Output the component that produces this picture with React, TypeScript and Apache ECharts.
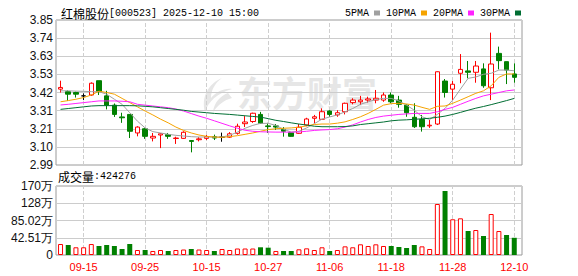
import React, { useEffect, useRef } from 'react';
import * as echarts from 'echarts';

const dates = ['09-10','09-11','09-12','09-15','09-16','09-17','09-18','09-19','09-22','09-23','09-24','09-25','09-26','09-29','09-30','10-09','10-10','10-13','10-14','10-15','10-16','10-17','10-20','10-21','10-22','10-23','10-24','10-27','10-28','10-29','10-30','10-31','11-03','11-04','11-05','11-06','11-07','11-10','11-11','11-12','11-13','11-14','11-17','11-18','11-19','11-20','11-21','11-24','11-25','11-26','11-27','11-28','12-01','12-02','12-03','12-04','12-05','12-08','12-09','12-10'];
const labelDates = ['09-15','09-25','10-15','10-27','11-06','11-18','11-28','12-10'];

const opens = [3.44,3.425,3.42,3.40,3.405,3.49,3.40,3.345,3.275,3.29,3.18,3.205,3.15,3.168,3.17,3.147,3.148,3.135,3.14,3.148,3.158,3.155,3.155,3.178,3.235,3.248,3.29,3.222,3.222,3.20,3.182,3.178,3.227,3.267,3.261,3.31,3.287,3.306,3.36,3.365,3.375,3.375,3.375,3.405,3.375,3.345,3.273,3.26,3.222,3.233,3.488,3.44,3.534,3.548,3.54,3.56,3.448,3.652,3.603,3.53];
const closes = [3.45,3.41,3.41,3.40,3.475,3.425,3.345,3.29,3.27,3.19,3.215,3.16,3.16,3.175,3.16,3.15,3.184,3.13,3.145,3.158,3.15,3.155,3.175,3.22,3.245,3.297,3.237,3.218,3.215,3.19,3.16,3.214,3.263,3.276,3.306,3.29,3.30,3.356,3.375,3.375,3.382,3.386,3.405,3.365,3.35,3.30,3.217,3.217,3.226,3.543,3.42,3.469,3.557,3.54,3.577,3.46,3.589,3.609,3.553,3.51];
const lows = [3.42,3.37,3.39,3.375,3.40,3.405,3.32,3.275,3.24,3.15,3.16,3.145,3.13,3.09,3.145,3.115,3.145,3.065,3.13,3.138,3.138,3.128,3.15,3.17,3.215,3.24,3.235,3.18,3.198,3.158,3.158,3.175,3.22,3.237,3.258,3.276,3.276,3.29,3.35,3.346,3.36,3.356,3.365,3.356,3.33,3.276,3.21,3.188,3.21,3.227,3.39,3.375,3.475,3.504,3.478,3.448,3.375,3.557,3.47,3.478];
const highs = [3.49,3.433,3.425,3.415,3.48,3.49,3.43,3.355,3.30,3.29,3.22,3.21,3.18,3.178,3.18,3.158,3.19,3.138,3.155,3.168,3.17,3.182,3.185,3.235,3.28,3.30,3.305,3.24,3.233,3.215,3.185,3.233,3.27,3.287,3.326,3.315,3.315,3.36,3.386,3.40,3.395,3.435,3.42,3.42,3.40,3.35,3.356,3.287,3.257,3.545,3.50,3.488,3.648,3.607,3.607,3.593,3.775,3.692,3.603,3.593];

const ma5 = [3.43,3.43,3.428,3.427,3.425,3.425,3.41,3.38,3.35,3.30,3.25,3.21,3.188,3.18,3.172,3.166,3.162,3.158,3.156,3.156,3.155,3.156,3.166,3.185,3.208,3.225,3.237,3.237,3.225,3.202,3.185,3.19,3.21,3.235,3.262,3.275,3.287,3.305,3.325,3.35,3.365,3.378,3.385,3.385,3.37,3.345,3.315,3.276,3.26,3.29,3.326,3.375,3.44,3.504,3.512,3.528,3.534,3.553,3.553,3.549];
const ma10 = [3.365,3.372,3.38,3.39,3.405,3.428,3.42,3.41,3.385,3.36,3.335,3.31,3.287,3.262,3.24,3.215,3.195,3.18,3.168,3.16,3.156,3.154,3.158,3.164,3.172,3.18,3.19,3.2,3.205,3.208,3.21,3.214,3.222,3.23,3.233,3.233,3.238,3.246,3.26,3.276,3.296,3.32,3.345,3.354,3.356,3.352,3.345,3.332,3.32,3.338,3.34,3.356,3.375,3.395,3.415,3.43,3.46,3.51,3.53,3.53];
const ma20 = [3.346,3.35,3.355,3.36,3.365,3.37,3.37,3.37,3.368,3.365,3.35,3.345,3.34,3.335,3.33,3.322,3.31,3.295,3.28,3.267,3.252,3.237,3.222,3.208,3.196,3.19,3.187,3.186,3.185,3.185,3.185,3.186,3.19,3.195,3.198,3.2,3.205,3.215,3.228,3.245,3.26,3.272,3.28,3.285,3.29,3.293,3.296,3.296,3.296,3.306,3.32,3.332,3.35,3.368,3.385,3.4,3.41,3.42,3.43,3.435];
const ma30 = [3.32,3.325,3.33,3.335,3.34,3.342,3.342,3.342,3.342,3.342,3.341,3.338,3.335,3.33,3.325,3.32,3.315,3.308,3.304,3.30,3.296,3.293,3.29,3.286,3.282,3.278,3.274,3.265,3.255,3.248,3.24,3.233,3.227,3.22,3.217,3.217,3.217,3.218,3.222,3.23,3.235,3.24,3.245,3.252,3.256,3.258,3.261,3.264,3.267,3.273,3.28,3.29,3.302,3.315,3.327,3.337,3.348,3.36,3.372,3.385];

// volume in 万
const volumes = [27.1,24.6,19,19,27,22.2,24.6,22.2,14.8,27,12.3,12.3,9.9,12.3,9.9,12.3,13.5,14.8,13.5,12.3,9.9,14.8,12.3,16,16,16,19,18,9.9,9.9,9.9,14,16.4,12.3,19,9.9,12.3,21.3,19,26.3,22.2,26.3,22.2,22.2,19.7,17.2,24.6,21.3,14.8,125.7,157.7,88,90.4,59.1,61.6,46.8,101,59.1,49.3,42.43];
const volUp = [1,0,1,1,1,0,0,0,0,0,1,0,1,1,0,1,1,0,1,1,0,1,1,1,1,1,0,0,1,0,0,1,1,1,1,0,1,1,1,1,1,1,1,0,0,0,0,1,1,1,0,1,1,0,1,0,1,1,0,0];

const priceTicks = ['2.99','3.10','3.21','3.31','3.42','3.53','3.63','3.74','3.85'];
const volTicks = ['0','42.51万','85.02万','128万','170万'];
const priceMin = 2.99;
const priceMax = 3.85;
const volMax = 170.04;
const lastVolume = '424276';

const UP = '#ff0000';
const DOWN = '#008000';

const logoPath = 'M24 1 C10 7 3 20 7 35 C10 25 19 16 34 12 C26 11 18 15 13 21 C13 13 17 6 24 1 Z M30 16 C22 19 16 26 15 35 C20 28 26 23 34 21 Z';
echarts.graphic.registerShape('emlogo', (echarts.graphic as any).extendPath(logoPath, {}));

export default function App() {
  const ref = useRef<HTMLDivElement>(null);
  useEffect(() => {
    const chart = echarts.init(ref.current!, null, { renderer: 'svg' });
    const vLines = {
      silent: true,
      symbol: ['none', 'none'],
      z: 1,
      label: { show: false },
      lineStyle: { type: 'dashed', color: '#cfcfcf', width: 1 },
      data: labelDates.map((d) => ({ xAxis: d })),
    };
    const candleData = dates.map((_, i) => [opens[i], closes[i], lows[i], highs[i]]);
    const volData = volumes.map((v, i) => ({
      value: v,
      itemStyle: volUp[i]
        ? { color: '#ffffff', borderColor: UP, borderWidth: 1 }
        : { color: DOWN, borderColor: DOWN, borderWidth: 0 },
    }));
    const labelSet = new Set(labelDates);
    const maSeries = (name: string, data: number[], color: string) => ({
      name,
      type: 'line',
      xAxisIndex: 1,
      yAxisIndex: 1,
      data,
      color,
      symbol: 'none',
      lineStyle: { width: 1, color },
      z: 4,
    });
    const option: any = {
      animation: false,
      title: {
        left: 56,
        top: 2,
        text: '{a|红棉股份}{b|[000523] 2025-12-10 15:00}',
        textStyle: {
          fontWeight: 'normal',
          rich: {
            a: { fontFamily: 'Noto Sans CJK SC', fontSize: 12, fontWeight: 'normal', color: '#000' },
            b: { fontFamily: 'Liberation Mono', fontSize: 10, fontWeight: 'normal', color: '#000' },
          },
        },
      },
      legend: {
        left: 340,
        top: 3,
        align: 'right',
        icon: 'rect',
        itemWidth: 6,
        itemHeight: 5,
        itemGap: 6,
        selectedMode: false,
        textStyle: { fontFamily: 'Liberation Mono', fontSize: 10, color: '#000' },
        data: ['5PMA', '10PMA', '20PMA', '30PMA'],
      },
      graphic: [
        {
          type: 'emlogo',
          x: 198,
          y: 77,
          z: -1,
          style: { fill: '#e6e6e6' },
        },
        {
          type: 'text',
          left: 237,
          top: 74,
          z: -1,
          style: {
            text: '东方财富',
            fill: '#e6e6e6',
            fontFamily: 'Noto Sans CJK SC',
            fontWeight: 'bold',
            fontSize: 35,
          },
        },
        {
          type: 'text',
          left: 58,
          top: 170,
          style: {
            text: '{c|成交量}{d|:' + lastVolume + '}',
            rich: {
              c: { fontFamily: 'Noto Sans CJK SC', fontSize: 12, fill: '#000' },
              d: { fontFamily: 'Liberation Mono', fontSize: 10, fill: '#000' },
            },
          },
        },
      ],
      grid: [
        { left: 56, top: 20, width: 466, height: 145, show: true, borderColor: '#9a9a9a', borderWidth: 1, backgroundColor: 'transparent' },
        { left: 56.7, top: 20, width: 461.4, height: 145, show: false },
        { left: 56, top: 186, width: 466, height: 69, show: true, borderColor: '#9a9a9a', borderWidth: 1, backgroundColor: 'transparent' },
        { left: 56.7, top: 186, width: 461.4, height: 69, show: false },
      ],
      xAxis: [
        { type: 'value', gridIndex: 0, min: 0, max: 1, show: false },
        { type: 'category', gridIndex: 1, data: dates, boundaryGap: true, show: false },
        { type: 'value', gridIndex: 2, min: 0, max: 1, show: false },
        {
          type: 'category',
          gridIndex: 3,
          data: dates,
          boundaryGap: true,
          axisLine: { show: false },
          axisTick: { show: false },
          splitLine: { show: false },
          axisLabel: {
            interval: (_i: number, v: string) => labelSet.has(v),
            color: UP,
            fontFamily: 'Liberation Sans',
            fontSize: 11,
            margin: 6,
          },
        },
      ],
      yAxis: [
        {
          type: 'value',
          gridIndex: 0,
          min: 0,
          max: priceTicks.length - 1,
          interval: 1,
          axisLine: { show: false },
          axisTick: { show: false },
          axisLabel: {
            formatter: (v: number) => priceTicks[Math.round(v)],
            color: '#111',
            fontFamily: 'Liberation Sans',
            fontSize: 12,
            margin: 3,
          },
          splitLine: { show: true, lineStyle: { color: '#cccccc', width: 1 } },
        },
        { type: 'value', gridIndex: 1, min: priceMin, max: priceMax, show: false, splitLine: { show: false } },
        {
          type: 'value',
          gridIndex: 2,
          min: 0,
          max: volTicks.length - 1,
          interval: 1,
          axisLine: { show: false },
          axisTick: { show: false },
          axisLabel: {
            formatter: (v: number) => volTicks[Math.round(v)],
            color: '#111',
            fontFamily: 'Liberation Sans',
            fontSize: 12,
            margin: 3,
          },
          splitLine: { show: true, lineStyle: { color: '#cccccc', width: 1 } },
        },
        { type: 'value', gridIndex: 3, min: 0, max: volMax, show: false, splitLine: { show: false } },
      ],
      series: [
        {
          name: 'K',
          type: 'candlestick',
          xAxisIndex: 1,
          yAxisIndex: 1,
          data: candleData,
          barWidth: 5,
          z: 3,
          itemStyle: {
            color: '#ffffff',
            color0: DOWN,
            borderColor: UP,
            borderColor0: DOWN,
            borderColorDoji: '#000000',
            borderWidth: 1,
          },
          markLine: vLines,
        },
        maSeries('5PMA', ma5, '#a0a0a0'),
        maSeries('10PMA', ma10, '#f5a300'),
        maSeries('20PMA', ma20, '#ff22ff'),
        maSeries('30PMA', ma30, '#006e33'),
        {
          name: 'VOL',
          type: 'bar',
          xAxisIndex: 3,
          yAxisIndex: 3,
          data: volData,
          barWidth: 5,
          z: 3,
          markLine: vLines,
        },
      ],
    };
    chart.setOption(option);
    return () => chart.dispose();
  }, []);
  return (
    <div
      ref={ref}
      style={{ position: 'fixed', left: 0, top: 0, width: 578, height: 276, background: '#fff' }}
    />
  );
}
